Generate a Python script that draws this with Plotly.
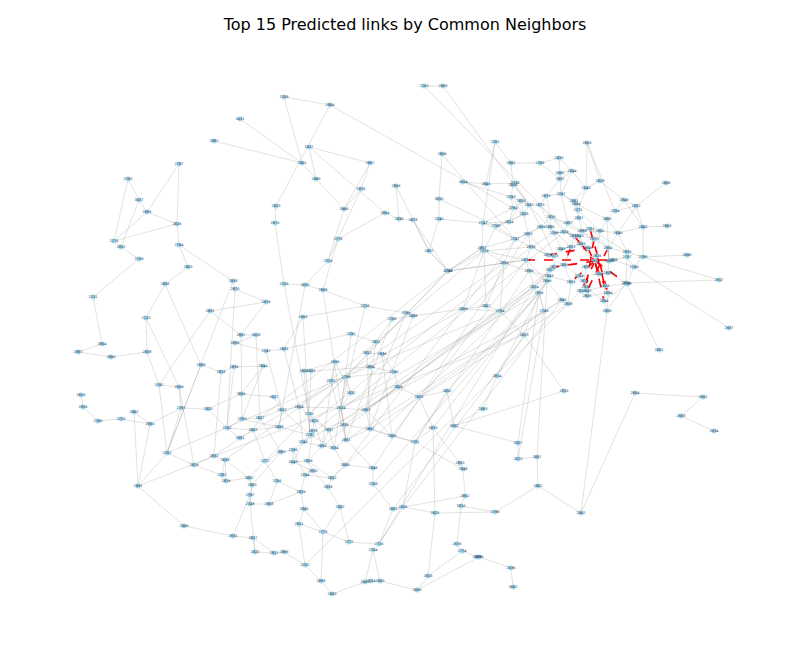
import plotly.graph_objects as go

# Right cluster nodes (label, x, y in picture units)
RIGHT = [("2747",482,222),("2779",483,250),("2742",447,270),("2867",481,247),("2850",503,262),("2794",512,207),("2798",495,225),("2814",508,221),("2826",520,200),("2793",510,196),
("2800",512,184),("2738",514,182),("2932",528,204),("2873",539,204),("2816",550,216),("2826",523,213),("2833",545,195),("2837",559,178),("2697",559,172),("2747",560,193),
("2851",573,200),("2894",575,203),("2771",577,209),("2957",567,222),("2817",578,217),("2886",549,226),("2856",540,226),("2747",514,238),("2853",527,233),("2839",530,246),
("2798",553,232),("2829",563,231),("2889",581,230),("2862",599,230),("2843",578,235),("2763",589,228),("2860",606,218),("2784",614,210),("2840",585,187),("2844",571,170),
("2849",623,199),("2852",635,205),("2840",617,232),("2842",642,226),("2850",607,247),("2825",596,255),("2806",608,260),("2910",594,260),("2787",626,256),("2835",626,251),
("2780",642,256),("2749",633,266),("2815",585,266),("2829",583,280),("2865",604,285),("2847",586,290),("2840",561,299),("2838",567,303),("2815",570,281),("2805",586,295),
("2838",585,286),("2894",603,300),("2896",546,280),("2843",548,275),("2816",538,292),("2749",543,310),("2806",606,310),("2898",612,259),("2834",525,259),("2773",553,255),
("2845",560,248),("2832",573,235),("2863",580,243),("2821",553,266),("2822",549,269),("2889",528,270),("2824",533,286),("2784",578,275),("2864",598,273),("2800",607,272),
("2809",625,282),("2788",626,283),("2870",593,238),("2813",570,246),("2846",587,247),("2810",580,290),("2894",607,292),("2856",563,264),("2876",547,254)]

# Left cluster nodes
LEFT = [("2792",226,427),("2763",241,418),("2817",259,417),("2822",281,409),("2804",298,406),("2730",308,413),("2825",313,420),("2898",278,426),("2782",309,434),("2837",328,429),
("2838",343,424),("2824",340,407),("2862",365,409),("2875",312,430),("2802",252,429),("2851",239,437),("2740",302,441),("2856",321,445),("2834",333,447),("2861",345,439),
("2897",369,428),("2865",391,435),("2781",414,441),("2833",432,427),("2786",292,449),("2883",280,451),("3048",292,461),("2859",307,460),("2772",264,460),("2832",213,455),
("2838",224,459),("2762",166,452),("2829",193,464),("2858",344,464),("2846",372,467),("2820",312,470),("2744",304,474),("2832",331,477),("2839",327,486),("2802",248,477),
("2782",221,474),("2819",225,480),("2756",276,480),("2803",251,484),("2768",372,483),("2891",137,485),("2797",249,494),("2748",249,503),("2868",268,503),("2829",300,491),
("2845",303,508),("2802",339,506),("2825",402,506),("2861",392,508),("2825",434,512),("2806",183,525),("2811",298,523),("2775",322,531),("2831",232,535),("2817",252,537),
("2772",348,541),("2716",378,543),("2764",372,549),("2822",254,551),("2811",273,552),("2896",283,551),("2752",304,564),("2858",320,580),("2850",331,593),("2661",364,581),
("2614",370,580),("2800",379,580),("2806",416,589),("2816",427,575)]

# Peripheral and middle nodes
OTHER = [("2763",423,85),("2800",442,85),("2708",283,96),("2884",329,104),("3031",239,118),("2882",213,140),("2837",308,146),("2761",494,141),("2803",586,142),("2787",178,163),
("2801",301,162),("2807",369,162),("2809",441,153),("2861",510,162),("2766",539,162),("2820",558,157),("2782",127,178),("2890",315,178),("2876",360,188),("2856",395,185),
("3004",462,181),("2845",485,183),("2828",599,180),("2866",665,182),("3037",138,199),("2856",146,211),("2823",275,205),("2960",343,208),("2804",384,212),("2830",398,218),
("3010",438,198),("2740",438,218),("2878",412,219),("2670",274,222),("2826",176,223),("2775",113,240),("2852",120,246),("2784",178,244),("2778",337,238),("2739",138,258),
("2726",327,260),("2803",187,266),("2860",666,225),("2696",686,254),("2807",428,250),("2759",447,270),("2938",232,280),("2870",234,288),("2726",283,283),("2830",304,284),
("2868",322,289),("2856",164,283),("2731",92,296),("2819",265,301),("2851",209,310),("2723",145,317),("2903",302,316),("2726",364,305),("2799",405,312),("2888",412,315),
("2708",391,318),("2917",718,279),("2937",728,327),("2854",101,343),("2887",77,351),("2860",110,356),("2838",146,351),("2807",240,334),("3018",255,334),("2836",234,342),
("2747",265,350),("2801",283,348),("2791",350,333),("2821",375,341),("2812",366,352),("2836",381,353),("2809",462,308),("2794",499,310),("2807",485,305),("3023",523,334),
("2851",658,349),("2868",200,364),("2818",220,371),("2839",233,366),("2844",262,365),("2856",334,361),("2800",303,370),("2801",310,370),("2884",369,366),("2790",393,371),
("2789",345,376),("2751",330,380),("2797",158,384),("2809",178,386),("2826",80,394),("2836",82,406),("2862",133,411),("2790",97,420),("2725",120,418),("2850",149,423),
("2797",180,407),("2820",207,408),("2856",240,393),("3027",273,396),("2832",350,392),("2809",397,386),("2831",418,396),("2852",446,390),("2814",496,375),("2815",563,390),
("2804",634,392),("2801",702,396),("2683",680,415),("2634",713,430),("2862",453,425),("2803",482,408),("2827",517,442),("2672",517,458),("2807",536,456),("2853",459,462),
("2848",462,468),("2852",464,495),("2810",460,505),("2799",494,511),("2862",537,485),("2862",580,512),("2676",456,543),("2774",461,550),("2668",476,556),("2886",478,556),
("2636",510,567),("2682",512,586)]

# Edges within right cluster (global indices; right cluster starts at 0)
EDGES_A = [(0,6),(0,5),(0,7),(0,27),(0,3),(1,3),(1,4),(1,29),(2,4),(2,3),(3,27),(4,27),(4,68),(4,75),(5,9),(5,7),(5,15),(6,7),(6,27),(7,15),(8,9),(8,12),(8,15),(9,10),(10,11),(11,12),(12,13),(12,15),(13,16),(13,14),(14,25),(14,26),(14,23),(15,28),(16,17),(16,19),(17,18),(17,39),(18,39),(19,20),(19,21),(20,21),(21,22),(22,24),(23,24),(23,31),(24,32),(25,26),(25,30),(26,28),(27,28),(28,29),(29,30),(29,88),(30,31),(31,34),(31,71),(32,35),(32,33),(33,36),(33,42),(34,72),(35,82),(36,37),(37,40),(38,20),(38,39),(40,41),(41,43),(42,43),(42,44),(43,50),(44,49),(44,46),(45,47),(46,48),(48,49),(49,50),(50,51),(51,48),(52,53),(52,47),(53,55),(54,55),(54,61),(55,59),(56,57),(57,58),(58,63),(59,60),(60,61),(61,66),(62,63),(62,64),(63,74),(64,76),(65,56),(65,64),(66,86),(68,75),(69,70),(69,88),(70,83),(71,83),(72,84),(73,74),(73,87),(75,76),(77,78),(77,53),(78,79),(79,80),(80,81),(81,54),(82,84),(83,87),(85,59),(86,54),(87,77),(45,82),(46,79),(35,44),(31,30),(14,31),(23,32),(24,35),(22,33),(36,42),(37,41),(1,68),(2,68),(6,15),(10,12),(9,15),(12,26),(13,25),(16,14),(19,23),(20,24),(21,36),(38,22),(39,19),(26,69),(28,88),(29,68),(69,73),(70,72),(71,34),(45,84),(46,44),(48,80),(49,42),(51,81),(47,78),(47,79),(52,77),(53,60),(56,62),(57,85),(58,87),(59,86),(61,81),(62,75),(64,65),(66,80),(67,51),(67,46),(74,76),(12,30),(14,82),(25,83),(26,27),(30,70),(31,82),(32,44),(33,45),(34,47),(35,49),(36,46),(40,43),(41,42),(5,8),(6,1),(7,8),(27,88),(68,62),(75,63)]

# Edges within left cluster (indices into LEFT)
EDGES_L = [(0,1),(0,14),(0,15),(1,2),(2,3),(2,14),(3,4),(3,7),(4,5),(4,11),(5,6),(5,8),(6,9),(6,13),(7,8),(7,14),(8,16),(9,10),(9,17),(10,11),(10,19),(11,12),(12,20),(13,16),(14,15),(15,29),(16,17),(16,24),(17,18),(18,19),(18,33),(19,20),(20,21),(21,22),(22,23),(24,25),(24,26),(25,28),(26,27),(27,35),(28,42),(29,30),(29,32),(30,41),(31,32),(31,45),(32,40),(33,34),(33,37),(34,44),(35,36),(36,37),(37,38),(38,51),(39,43),(39,41),(40,41),(42,48),(43,46),(44,53),(46,47),(47,48),(48,49),(49,50),(50,56),(51,57),(52,53),(52,54),(55,58),(56,57),(57,60),(58,59),(59,63),(60,61),(61,62),(62,69),(63,64),(64,65),(65,66),(66,67),(67,68),(68,69),(69,70),(70,71),(71,72),(72,73),(73,54),(1,7),(3,8),(5,9),(6,17),(8,18),(11,19),(13,27),(16,26),(17,27),(19,34),(20,22),(24,36),(25,43),(26,35),(27,37),(28,39),(30,39),(35,38),(36,49),(42,49),(43,47),(45,55),(46,58),(50,57),(51,60),(53,61),(56,66),(57,67),(59,64),(62,71),(63,47),(12,21),(10,20),(2,25),(4,16),(14,28),(40,30),(9,18),(22,52),(23,54),(61,52)]

# Other edges (global indices: right 0-88, left 89-162, other 163+)
EDGES_B = [(0,170),(163,164),(163,47),(164,12),(165,166),(166,189),(166,5),(167,173),(168,173),(169,174),(169,191),(170,176),(171,37),(171,185),(172,197),(173,180),(174,181),(175,193),(175,27),(176,10),(177,178),(177,17),(178,19),(179,187),(180,190),(181,190),(181,201),(182,192),(183,184),(183,9),(184,11),(185,38),(185,40),(186,41),(187,188),(188,197),(189,196),(190,203),(191,192),(192,195),(193,194),(193,6),(194,207),(195,207),(196,211),(197,200),(198,199),(199,202),(200,204),(201,203),(201,213),(202,215),(203,212),(204,214),(205,43),(206,50),(207,208),(208,2),(208,1),(209,210),(210,216),(211,212),(212,213),(213,220),(214,218),(215,226),(216,217),(216,230),(217,230),(218,229),(219,220),(219,234),(220,221),(221,222),(222,223),(222,239),(223,236),(224,50),(224,80),(225,51),(226,227),(227,228),(228,229),(229,255),(230,231),(231,232),(232,233),(233,234),(234,235),(235,236),(236,237),(237,238),(238,252),(239,240),(239,241),(240,241),(240,242),(241,4),(242,64),(243,81),(244,245),(245,246),(246,247),(247,265),(248,249),(249,250),(250,251),(251,252),(252,253),(253,254),(254,248),(255,256),(256,263),(257,258),(258,260),(259,262),(260,261),(261,262),(262,263),(263,264),(264,265),(265,266),(266,92),(267,100),(268,101),(269,112),(270,111),(271,242),(272,277),(272,242),(273,274),(273,288),(274,275),(275,276),(277,278),(277,279),(278,271),(279,280),(280,281),(281,287),(282,283),(283,284),(284,285),(285,286),(286,287),(287,288),(289,290),(290,291),(291,292),(292,293),(293,294),(289,285),(284,142),(286,143),(290,162),(292,161),(282,112),(283,111),(279,64),(280,65),(281,62),(288,66),(271,62),(270,64),(269,65),
(95,29),(97,31),(98,63),(99,62),(100,64),(101,76),(105,65),(106,73),(108,56),(109,57),(110,68),(111,75),(112,62),(117,2),(119,4),(122,27),(123,28),(126,74),(133,64),(141,56),(142,65),(150,76),(155,57),(91,2),(93,1),(94,208),(104,239),(120,240),(134,242),(248,106),(249,97),(250,94),(253,107),(254,108),(247,90),(246,89),(245,118),(244,120),(264,89),(263,120),(262,134),(255,120),(256,121),(259,134),(235,100),(236,101),(237,109),(238,110),(230,90),(231,91),(233,92),(234,93),(212,96),(213,99),(219,97),(220,100),(221,101),(222,109),(223,108),(211,94),(210,89),(209,120),(217,255),(218,256),(214,244),(200,209),(197,198),(188,198),(187,199),(179,198),(172,188),(182,207),(191,201),(174,190),(169,180),(165,173),(176,177),(184,170),(178,39),(171,38),(194,0),(195,208),(207,2),(208,3),(239,1),(240,4),(241,1),(252,268),(253,267),(268,269),(269,270),(270,277),(267,248)]

# Top 15 predicted links (right cluster indices)
PREDICTED = [(71,72),(88,84),(83,87),(68,67),(47,58),(47,85),(84,86),(45,54),(47,73),(72,47),(82,60),(47,80),(44,55),(35,86),(47,61)]

nodes = RIGHT + LEFT + OTHER
off_left = len(RIGHT)
labels = [n[0] for n in nodes]
xs = [n[1] for n in nodes]
ys = [n[2] for n in nodes]

edges = EDGES_A + [(a + off_left, b + off_left) for a, b in EDGES_L] + EDGES_B

def seg(pairs):
    ex, ey = [], []
    for a, b in pairs:
        ex += [xs[a], xs[b], None]
        ey += [ys[a], ys[b], None]
    return ex, ey

gx, gy = seg(edges)
rx, ry = seg(PREDICTED)

fig = go.Figure()
fig.add_trace(go.Scatter(x=gx, y=gy, mode="lines", line=dict(color="rgba(140,140,140,0.5)", width=0.5), hoverinfo="skip"))
fig.add_trace(go.Scatter(x=rx, y=ry, mode="lines", line=dict(color="red", width=1.6, dash="dash"), hoverinfo="skip"))
fig.add_trace(go.Scatter(x=xs, y=ys, mode="markers+text", text=labels, textposition="middle center",
                         textfont=dict(size=3.5, color="#1a2a40", family="DejaVu Sans"),
                         marker=dict(size=5, color="#9fd8ef", line=dict(width=0))))

fig.update_layout(width=794, height=656, margin=dict(l=0, r=0, t=0, b=0), showlegend=False,
                  plot_bgcolor="white", paper_bgcolor="white",
                  xaxis=dict(range=[7, 801], visible=False),
                  yaxis=dict(range=[663, 7], visible=False),
                  title=dict(text="Top 15 Predicted links by Common Neighbors", x=0.5, xanchor="center", y=0.975, yanchor="middle",
                             font=dict(size=16, color="black", family="DejaVu Sans")))
fig.write_html("out.html")
